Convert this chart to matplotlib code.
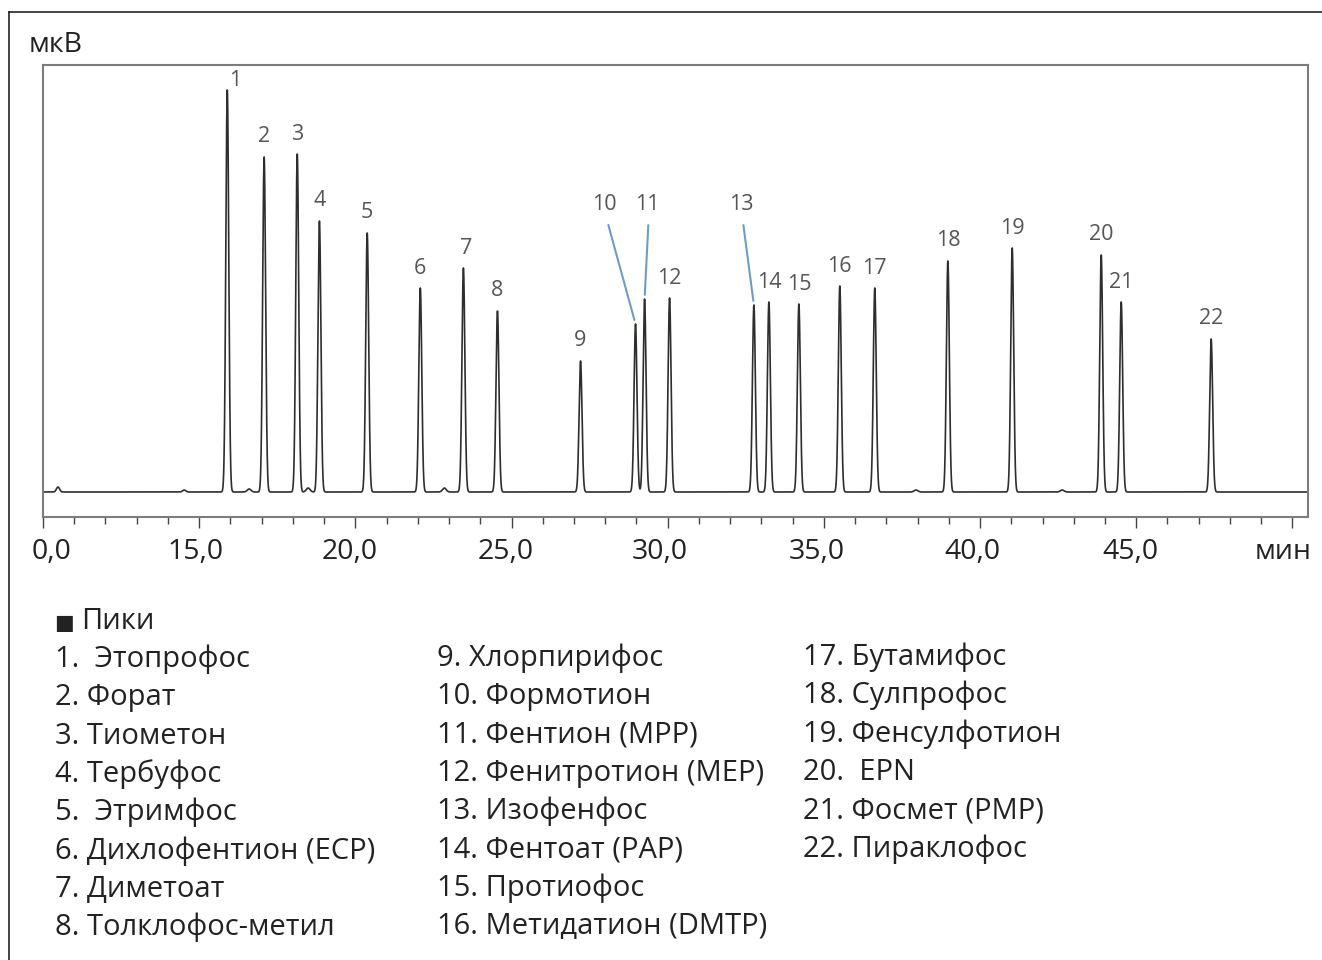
import numpy as np
import matplotlib
matplotlib.use("Agg")
import matplotlib.pyplot as plt
from matplotlib.lines import Line2D
from matplotlib.transforms import ScaledTranslation

plt.rcParams['font.family'] = ['Open Sans', 'DejaVu Sans']

# peaks: number, retention time (min), height (uV, arbitrary)
peak_num = list(range(1, 23))
peak_time = [15.90, 17.08, 18.14, 18.85, 20.38, 22.08, 23.46, 24.55, 27.21, 28.97, 29.26,
             30.06, 32.76, 33.24, 34.20, 35.51, 36.63, 38.97, 41.03, 43.88, 44.52, 47.40]
peak_height = [402, 335, 338, 271, 259, 204, 224, 181, 131, 168, 193,
               194, 187, 190, 188, 206, 204, 231, 244, 237, 190, 153]

# small unlabelled bumps
minor_time = [1.44, 13.56, 16.60, 18.49, 22.85, 37.95, 42.63]
minor_height = [5, 2, 3, 4, 4, 2, 2]
minor_width = [0.15, 0.15, 0.06, 0.06, 0.06, 0.06, 0.06]

tick_major = [0, 15, 20, 25, 30, 35, 40, 45, 50]
tick_labels = ['0,0', '15,0', '20,0', '25,0', '30,0', '35,0', '40,0', '45,0', 'мин']
tick_minor = [3, 6, 9, 12] + [m for m in range(16, 50) if m % 5 != 0]

compounds = [
    '1.  Этопрофос', '2. Форат', '3. Тиометон', '4. Тербуфос', '5.  Этримфос',
    '6. Дихлофентион (ECP)', '7. Диметоат', '8. Толклофос-метил',
    '9. Хлорпирифос', '10. Формотион', '11. Фентион (MPP)', '12. Фенитротион (MEP)',
    '13. Изофенфос', '14. Фентоат (PAP)', '15. Протиофос', '16. Метидатион (DMTP)',
    '17. Бутамифос', '18. Сулпрофос', '19. Фенсулфотион', '20.  EPN',
    '21. Фосмет (PMP)', '22. Пираклофос',
]


# axis is compressed between 0 and 15 min
def fwd(t):
    t = np.asarray(t, dtype=float)
    return np.where(t < 15, t / 3.0, t - 10.0)


def inv(p):
    p = np.asarray(p, dtype=float)
    return np.where(p < 5, p * 3.0, p + 10.0)


t = np.linspace(0, 50.5, 40000)
signal = np.zeros_like(t)
for tc, h in zip(peak_time, peak_height):
    signal += h * np.exp(-0.5 * ((t - tc) / 0.047) ** 2)
for tc, h, w in zip(minor_time, minor_height, minor_width):
    signal += h * np.exp(-0.5 * ((t - tc) / w) ** 2)

fig = plt.figure(figsize=(13.22, 9.6), dpi=100)
ax = fig.add_axes([43 / 1322, 1 - 517 / 960, 1265 / 1322, 452 / 960])
ax.set_xscale('function', functions=(fwd, inv))
ax.plot(t, signal, color='#2e2e2e', lw=1.2)
ax.set_xlim(0, 50.5)
ax.set_ylim(-25, 427)
ax.set_yticks([])

for s in ax.spines.values():
    s.set_color('#7d7d7d')
    s.set_linewidth(1.5)

ax.set_xticks(tick_major)
ax.set_xticklabels(tick_labels)
ax.set_xticks(tick_minor, minor=True)
ax.tick_params(axis='x', which='major', length=8, width=1.0, color='#444444',
               labelsize=20.5, labelcolor='#222222', pad=7)
ax.tick_params(axis='x', which='minor', length=5, width=1.0, color='#444444')
label_dx = [9, -4, -6, -6, -8, -7, -8, -6, -9]
for tk, dx in zip(ax.xaxis.get_major_ticks(), label_dx):
    tk.label1.set_transform(tk.label1.get_transform() +
                            ScaledTranslation(dx / 100, 0, fig.dpi_scale_trans))

# peak numbers
lead_color = '#6f9cc6'
for n, tc, h in zip(peak_num, peak_time, peak_height):
    dx, dy = 0, 20
    arrow = None
    if n == 1:
        dx, dy = 8, 9
    elif n == 7:
        dx = 3
    elif n == 10:
        dx, dy = -31, 119
    elif n == 11:
        dx, dy = 3, 94
    elif n == 13:
        dx, dy = -13, 100
    if n in (10, 11, 13):
        arrow = dict(arrowstyle='-', color=lead_color, lw=1.5, shrinkA=5, shrinkB=3,
                     relpos=(0.55, 0))
    ax.annotate(str(n), xy=(tc, h), xytext=(dx * 0.72, dy * 0.72), textcoords='offset points',
                ha='center', va='center', fontsize=15.5, color='#555555', arrowprops=arrow)

# outer frame
fig.add_artist(Line2D([9 / 1322, 1], [1 - 12 / 960, 1 - 12 / 960], transform=fig.transFigure,
                      color='#222222', lw=1.2))
fig.add_artist(Line2D([9 / 1322, 9 / 1322], [0, 1 - 12 / 960], transform=fig.transFigure,
                      color='#222222', lw=1.2))

fig.text(29 / 1322, 1 - 52 / 960, 'мкВ', fontsize=20.5, color='#222222', va='baseline')

# peak list
fig.text(54 / 1322, 1 - 629 / 960, '■', fontsize=15, color='#222222', va='baseline',
         family='DejaVu Sans')
fig.text(81 / 1322, 1 - 629 / 960, 'Пики', fontsize=21, color='#222222', va='baseline')
col_x = [55, 437, 803]
col_y0 = [667, 666, 665]
for i, name in enumerate(compounds):
    if i < 8:
        c, r = 0, i
    elif i < 16:
        c, r = 1, i - 8
    else:
        c, r = 2, i - 16
    fig.text(col_x[c] / 1322, 1 - (col_y0[c] + 38.3 * r) / 960, name, fontsize=21,
             color='#222222', va='baseline')

fig.savefig('out.png', dpi=100, facecolor='white')
